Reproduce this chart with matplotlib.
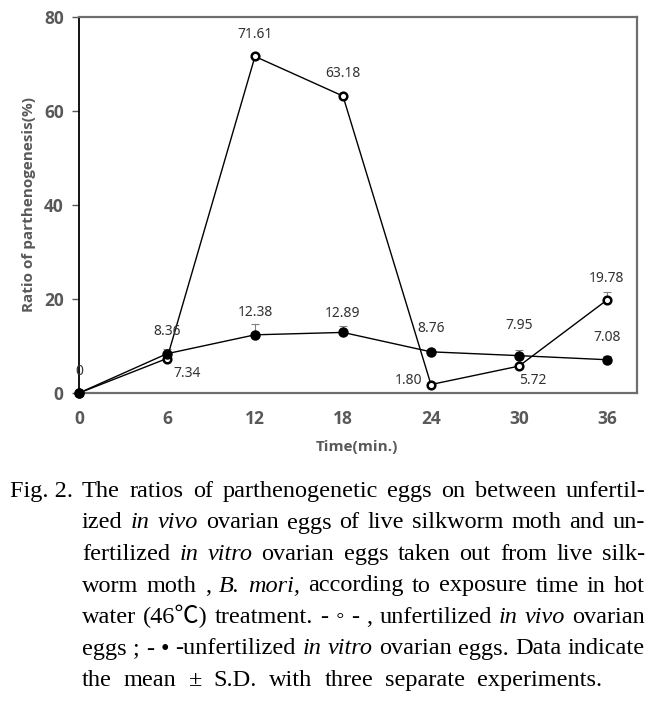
import matplotlib
matplotlib.use("Agg")
import matplotlib.pyplot as plt
import numpy as np

# data
time_min = [0, 6, 12, 18, 24, 30, 36]
in_vivo = [0, 7.34, 71.61, 63.18, 1.80, 5.72, 19.78]
in_vivo_sd = [0, 0, 0, 0, 0, 0.4, 1.7]
in_vitro = [0, 8.36, 12.38, 12.89, 8.76, 7.95, 7.08]
in_vitro_sd = [0, 0.9, 2.3, 1.3, 0.4, 1.3, 0.8]
vivo_labels = ["0", "7.34", "71.61", "63.18", "1.80", "5.72", "19.78"]
vitro_labels = [None, "8.36", "12.38", "12.89", "8.76", "7.95", "7.08"]
y_ticks = [0, 20, 40, 60, 80]

# label offsets in pixels (dx, dy), dy positive = up
vivo_offsets = [(0, 22), (20, -15), (0, 22), (0, 23), (-22, 4), (14, -14), (0, 22)]
vitro_offsets = [None, (0, 22), (0, 22), (0, 19), (0, 23), (0, 30), (0, 22)]

W, H = 665, 701
fig = plt.figure(figsize=(W / 100, H / 100), dpi=100)
ax = fig.add_axes([79 / W, 1 - 393 / H, (637 - 79) / W, (393 - 17) / H])

gray = "#595959"
sans = ["Open Sans", "DejaVu Sans"]
ax.errorbar(time_min, in_vitro, yerr=[np.zeros(len(in_vitro_sd)), in_vitro_sd],
            fmt="none", ecolor="#808080", elinewidth=0.8, capsize=3, capthick=0.8, zorder=2)
ax.errorbar(time_min, in_vivo, yerr=[np.zeros(len(in_vivo_sd)), in_vivo_sd],
            fmt="none", ecolor="#808080", elinewidth=0.8, capsize=3, capthick=0.8, zorder=2)
ax.plot(time_min, in_vitro, color="black", lw=1.0, marker="o", markersize=6.5,
        markerfacecolor="black", markeredgecolor="black", clip_on=False, zorder=4)
ax.plot(time_min, in_vivo, color="black", lw=1.0, marker="o", markersize=5.5,
        markerfacecolor="white", markeredgecolor="black", markeredgewidth=1.8,
        clip_on=False, zorder=3)

for x, y, lab, off in zip(time_min, in_vivo, vivo_labels, vivo_offsets):
    ax.annotate(lab, (x, y), xytext=off, textcoords="offset pixels",
                ha="center", va="center", fontsize=10, family="Noto Sans",
                color="#333333")
for x, y, lab, off in zip(time_min, in_vitro, vitro_labels, vitro_offsets):
    if lab is None:
        continue
    ax.annotate(lab, (x, y), xytext=off, textcoords="offset pixels",
                ha="center", va="center", fontsize=10, family="Noto Sans",
                color="#333333")

ax.set_xlim(0, 38.05)
ax.set_ylim(0, 80)
ax.set_xticks(time_min)
ax.set_yticks(y_ticks)
ax.set_xticklabels([str(t) for t in time_min], fontweight="bold", fontsize=12.5,
                   color=gray, family=sans)
ax.set_yticklabels([str(t) for t in y_ticks], fontweight="bold", fontsize=12.5,
                   color=gray, family=sans)
ax.tick_params(axis="x", length=0, pad=12)
ax.tick_params(axis="y", length=5, width=1, color=gray, pad=6)

ax.spines["left"].set_color("black")
ax.spines["left"].set_linewidth(1.3)
for s in ["top", "right", "bottom"]:
    ax.spines[s].set_color("#6e6e6e")
    ax.spines[s].set_linewidth(1.6)

ax.set_ylabel("Ratio of parthenogenesis(%)", fontsize=11, fontweight="bold",
              color=gray, family=sans, labelpad=6)
fig.text(357 / W, 1 - 447 / H, "Time(min.)", ha="center", va="center",
         fontsize=11, fontweight="bold", color=gray, family=sans)

# caption, justified with hanging indent
caption_lines = [
    [("The", 0), ("ratios", 0), ("of", 0), ("parthenogenetic", 0), ("eggs", 0), ("on", 0),
     ("between", 0), ("unfertil-", 0)],
    [("ized", 0), ("in", 1), ("vivo", 1), ("ovarian", 0), ("eggs", 0), ("of", 0), ("live", 0),
     ("silkworm", 0), ("moth", 0), ("and", 0), ("un-", 0)],
    [("fertilized", 0), ("in", 1), ("vitro", 1), ("ovarian", 0), ("eggs", 0), ("taken", 0),
     ("out", 0), ("from", 0), ("live", 0), ("silk-", 0)],
    [("worm", 0), ("moth", 0), (",", 0), ("B.", 1), ("mori,", 1), ("according", 0), ("to", 0),
     ("exposure", 0), ("time", 0), ("in", 0), ("hot", 0)],
    [("water", 0), ("(46\u2103)", 0), ("treatment.", 0), ("-", 0), ("\u25e6", 0), ("-", 0),
     (",", 0), ("unfertilized", 0), ("in", 1), ("vivo", 1), ("ovarian", 0)],
    [("eggs", 0), (";", 0), ("-", 0), ("\u2022", 0), ("-unfertilized", 0), ("in", 1),
     ("vitro", 1), ("ovarian", 0), ("eggs.", 0), ("Data", 0), ("indicate", 0)],
    [("the", 0), ("mean", 0), ("\u00b1", 0), ("S.D.", 0), ("with", 0), ("three", 0),
     ("separate", 0), ("experiments.", 0)],
]
cap_fs = 17.5
cap_family = ["Liberation Serif", "Noto Sans CJK KR", "DejaVu Serif"]
left_x, indent_x, right_x = 10, 82, 645
last_right = 602
baseline0, line_step = 497, 31.5

renderer = fig.canvas.get_renderer()
fig.text(left_x / W, 1 - baseline0 / H, "Fig. 2.", fontsize=cap_fs, family=cap_family,
         va="baseline", ha="left")
for i, line in enumerate(caption_lines):
    yb = 1 - (baseline0 + i * line_step) / H
    texts = []
    for word, it in line:
        t = fig.text(0, yb, word, fontsize=cap_fs, family=cap_family,
                     style="italic" if it else "normal", va="baseline", ha="left")
        texts.append(t)
    widths = [t.get_window_extent(renderer).width for t in texts]
    r = last_right if i == len(caption_lines) - 1 else right_x
    gap = (r - indent_x - sum(widths)) / (len(texts) - 1)
    x = indent_x
    for t, w in zip(texts, widths):
        t.set_x(x / W)
        x += w + gap

fig.savefig("out.png", dpi=100)
